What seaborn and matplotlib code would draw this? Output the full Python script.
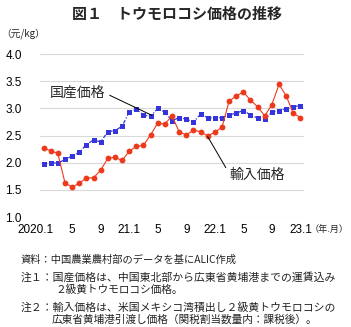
import matplotlib
matplotlib.use('Agg')
import matplotlib.pyplot as plt
import seaborn as sns
import pandas as pd
from matplotlib.transforms import ScaledTranslation

# ---- data ----
months = list(range(37))  # 2020.1 ... 2023.1
tick_positions = [0, 4, 8, 12, 16, 20, 24, 28, 32, 36]
tick_labels = ['2020.1', '5', '9', '21.1', '5', '9', '22.1', '5', '9', '23.1']
domestic = [1.97, 2.00, 1.99, 2.06, 2.12, 2.19, 2.33, 2.42, 2.38, 2.57, 2.59, 2.67,
            2.93, 2.98, 2.88, 2.85, 3.00, 2.93, 2.77, 2.83, 2.80, 2.75, 2.89, 2.83,
            2.82, 2.83, 2.88, 2.91, 2.96, 2.88, 2.82, 2.80, 2.93, 2.96, 2.99, 3.03, 3.05]
imported = [2.27, 2.22, 2.17, 1.63, 1.55, 1.62, 1.72, 1.72, 1.86, 2.08, 2.10, 2.04,
            2.21, 2.30, 2.32, 2.51, 2.73, 2.71, 2.86, 2.57, 2.51, 2.60, 2.57, 2.49,
            2.56, 2.65, 3.13, 3.23, 3.30, 3.15, 3.03, 2.86, 3.07, 3.44, 3.23, 2.91, 2.83]
y_ticks = [1.0, 1.5, 2.0, 2.5, 3.0, 3.5, 4.0]

title = '図１　トウモロコシ価格の推移'
y_unit = '（元/kg）'
x_unit = '（年.月）'
label_domestic = '国産価格'
label_import = '輸入価格'
notes = [
    '資料：中国農業農村部のデータを基にALIC作成',
    '注１：国産価格は、中国東北部から広東省黄埔港までの運賃込み',
    '２級黄トウモロコシ価格。',
    '注２：輸入価格は、米国メキシコ湾積出し２級黄トウモロコシの',
    '広東省黄埔港引渡し価格（関税割当数量内：課税後）。',
]

# ---- style ----
sns.set_theme(style='white')
plt.rcParams['font.family'] = ['Liberation Sans', 'Noto Sans CJK JP', 'DejaVu Sans']
JP = ['Noto Sans CJK JP', 'DejaVu Sans']
BLUE = '#3535DC'
RED = '#EE3A1C'

W, H = 351, 327
fig = plt.figure(figsize=(W / 100, H / 100), dpi=100)
fig.patch.set_facecolor('white')
ax = fig.add_axes([40 / W, 1 - 217 / H, 264 / W, 163 / H])

df = pd.DataFrame({'month': months, 'domestic': domestic, 'imported': imported})

sns.lineplot(data=df, x='month', y='domestic', ax=ax, color=BLUE, marker='s',
             markersize=3.6, markeredgewidth=0, linewidth=0.9,
             linestyle=(0, (3, 1.5, 1, 1.5)))
sns.lineplot(data=df, x='month', y='imported', ax=ax, color=RED, marker='o',
             markersize=4.2, markeredgewidth=0, linewidth=0.8)

ax.set_xlim(-0.5, 36.5)
ax.set_ylim(1.0, 4.0)
ax.set_yticks(y_ticks)
ax.set_yticklabels([f'{v:.1f}' for v in y_ticks], fontsize=8.5)
ax.set_xticks(tick_positions)
ax.set_xticklabels(tick_labels, fontsize=8.5)
ax.set_xlabel('')
ax.set_ylabel('')
ax.tick_params(axis='both', length=0, colors='black')
ax.tick_params(axis='y', pad=13)
ax.tick_params(axis='x', pad=5)
for s in ax.spines.values():
    s.set_visible(False)
ax.grid(axis='y', color='#D9D9D9', linewidth=0.8)
ax.set_axisbelow(True)

# shift first x label left a bit like the reference
first = ax.get_xticklabels()[0]
first.set_transform(first.get_transform() + ScaledTranslation(-8 / 100, 0, fig.dpi_scale_trans))

# annotations
ax.annotate(label_domestic, xy=(15.2, 2.87), xytext=(0.85, 3.28), textcoords='data',
            fontsize=10, family=JP, ha='left', va='center',
            arrowprops=dict(arrowstyle='-', color='black', lw=0.7,
                            shrinkA=1, shrinkB=0, relpos=(1, 0.5)))
ax.annotate(label_import, xy=(23, 2.48), xytext=(26.1, 1.77), textcoords='data',
            fontsize=10, family=JP, ha='left', va='center',
            arrowprops=dict(arrowstyle='-', color='black', lw=0.7,
                            shrinkA=1, shrinkB=0, relpos=(0, 0.55)))

# texts
fig.text(177 / W, 1 - 14 / H, title, ha='center', va='center', fontsize=10.8,
         fontweight='bold', family=JP)
fig.text(1 / W, 1 - 34 / H, y_unit, ha='left', va='center', fontsize=7, family=JP)
fig.text(310 / W, 1 - 229 / H, x_unit, ha='left', va='center', fontsize=6.6, family=JP)

note_pos = [(21, 260), (21, 277), (56, 290), (21, 307), (52, 319)]
note_size = [7.4, 7.8, 7.7, 7.8, 7.7]
for (nx, ny), t, fs in zip(note_pos, notes, note_size):
    fig.text(nx / W, 1 - ny / H, t, ha='left', va='center', fontsize=fs,
             family=JP, color='#222222')

fig.savefig('out.png', dpi=100, facecolor='white')
